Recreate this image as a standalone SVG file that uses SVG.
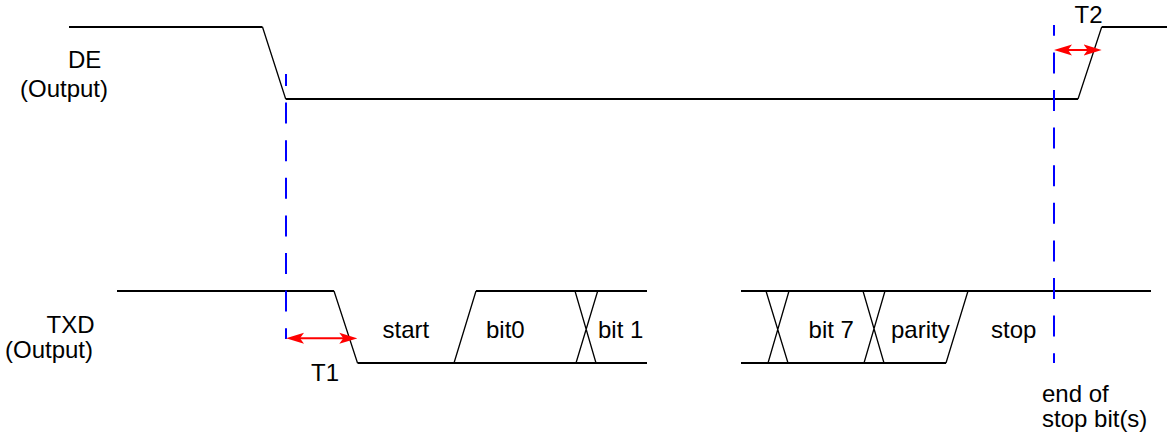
<svg xmlns="http://www.w3.org/2000/svg" width="1167" height="436" viewBox="0 0 1167 436">
<style>
.h{fill:none;stroke:#000;stroke-width:2;stroke-linecap:butt}
.s{fill:none;stroke:#000;stroke-width:1.3}
.blue{fill:none;stroke:#0000ff;stroke-width:2;stroke-dasharray:21 16.6}
.arr{stroke:#ff0000;stroke-width:2}
text{font-family:"Liberation Sans",Arial,sans-serif;font-size:24px;fill:#000}
</style>
<defs>
<marker id="ah" viewBox="0 0 18 12" refX="8" refY="6" markerWidth="18" markerHeight="12" markerUnits="userSpaceOnUse" orient="auto-start-reverse">
<path d="M0,0.5 L18,6 L0,11.5 L4,6 Z" fill="#ff0000"/>
</marker>
</defs>
<rect width="1167" height="436" fill="#fff"/>
<g id="labels">
<text x="68" y="68">DE</text>
<text x="20" y="97">(Output)</text>
<text x="46.5" y="332.5">TXD</text>
<text x="5" y="358">(Output)</text>
</g>
<g id="de-signal">
<path class="h" d="M69,27 H262.5 M285.7,99 H1078 M1101.7,27 H1167"/>
<path class="s" d="M262.5,27 L285.7,99 M1078,99 L1101.7,27"/>
</g>
<g id="txd-signal">
<path class="h" d="M117,291 H334 M357.5,363 H647 M476,291 H647 M741,291 H1151 M741,363 H946"/>
<path class="s" d="M334,291 L357.5,363 M454,363 L476,291 M575,291 L596,363 M597.7,291 L576,363 M766,291 L788,363 M789,291 L768,363 M863,291 L884,363 M885,291 L864,363 M968,291 L946,363"/>
</g>
<g id="bits">
<text x="382.5" y="337.7">start</text>
<text x="486" y="337.7">bit0</text>
<text x="598" y="337.7">bit 1</text>
<text x="808.6" y="337.7">bit 7</text>
<text x="891" y="337.7">parity</text>
<text x="991" y="337.7">stop</text>
</g>
<g id="connectors">
<line class="blue" x1="286" y1="74" x2="286" y2="339" stroke-dashoffset="9"/>
<line class="blue" x1="1054" y1="25" x2="1054" y2="363" stroke-dashoffset="10.2"/>
<line class="arr" x1="296" y1="338.3" x2="347.3" y2="338.3" marker-start="url(#ah)" marker-end="url(#ah)"/>
<line class="arr" x1="1064" y1="50" x2="1091.7" y2="50" marker-start="url(#ah)" marker-end="url(#ah)"/>
</g>
<g id="timing-labels">
<text x="311" y="380.7">T1</text>
<text x="1074.5" y="23.3">T2</text>
<text x="1042" y="401.7">end of</text>
<text x="1042" y="426.7">stop bit(s)</text>
</g>
</svg>
